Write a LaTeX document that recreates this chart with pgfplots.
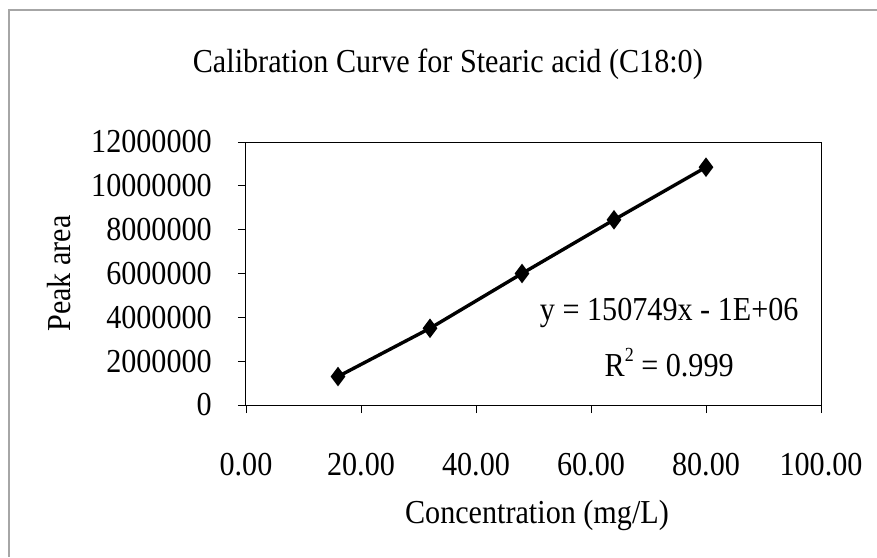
\documentclass[border=0pt]{standalone}
\usepackage{fontspec}
\setmainfont{Liberation Serif}[FakeStretch=0.9]
\usepackage{pgfplots}
\pgfplotsset{compat=1.18}
\begin{document}
\fontsize{33.5}{40}\selectfont
\begin{tikzpicture}
\useasboundingbox (-246pt,-152pt) rectangle (631pt,405pt);
\draw[gray!70, line width=1.2pt] (-237pt,-152pt) -- (-237pt,395pt) -- (631pt,395pt);
\begin{axis}[
  scale only axis,
  width=575pt, height=263pt,
  xmin=0, xmax=100, ymin=0, ymax=12000000,
  scaled y ticks=false, scaled x ticks=false,
  axis line style={black, line width=1pt},
  xtick={0,20,40,60,80,100},
  xticklabels={0.00,20.00,40.00,60.00,80.00,100.00},
  ytick={0,2000000,4000000,6000000,8000000,10000000,12000000},
  yticklabels={0,2000000,4000000,6000000,8000000,10000000,12000000},
  xtick pos=bottom, ytick pos=left,
  tick align=outside,
  major tick length=8pt,
  tick style={black, line width=0.8pt},
  xticklabel style={anchor=center, yshift=-52pt, inner sep=0pt},
  yticklabel style={anchor=east, xshift=-26pt, inner sep=0pt},
  title={Calibration Curve for Stearic acid (C18:0)},
  title style={at={(axis description cs:0.351,1)}, anchor=center, yshift=72pt},
  xlabel={Concentration (mg/L)},
  xlabel style={at={(axis description cs:0.506,0)}, anchor=center, yshift=-110pt},
  ylabel={Peak area},
  ylabel style={at={(axis description cs:0,0.50)}, anchor=center, yshift=187pt},
  clip=false,
]
\addplot[black, line width=3.4pt, mark=diamond*, mark size=7pt, mark options={solid, fill=black}]
  coordinates {(16,1300000) (32,3500000) (48,6000000) (64,8450000) (80,10850000)};
\node[anchor=center] at (axis cs:73.6,4200000) {y = 150749x - 1E+06};
\node[anchor=center] at (axis cs:73.6,1920000) {R\raisebox{0.45em}{\fontsize{20}{24}\selectfont 2} = 0.999};
\end{axis}
\end{tikzpicture}
\end{document}
